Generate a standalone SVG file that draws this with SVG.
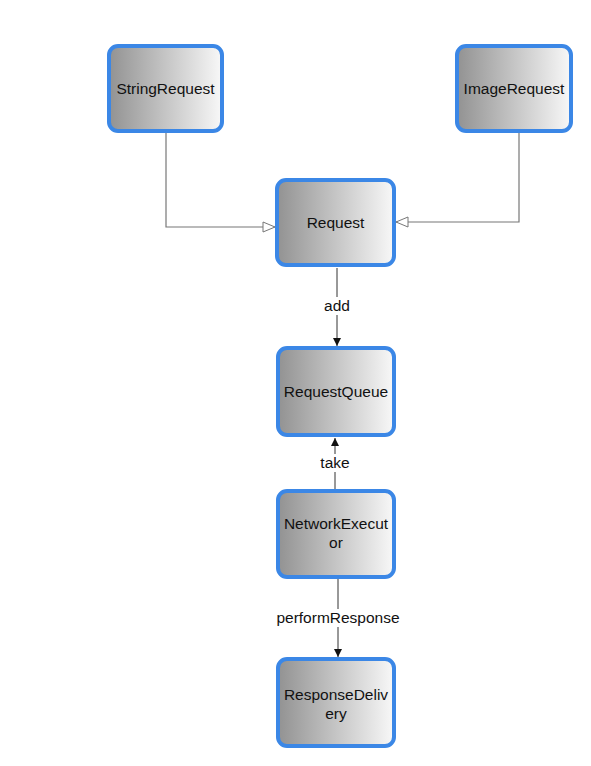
<svg xmlns="http://www.w3.org/2000/svg" width="591" height="766" viewBox="0 0 591 766">
<defs>
<linearGradient id="g" x1="0" y1="0" x2="1" y2="0">
<stop offset="0" stop-color="#929292"/>
<stop offset="1" stop-color="#f8f8f8"/>
</linearGradient>
<marker id="open" markerWidth="14" markerHeight="12" refX="13" refY="6" orient="auto" markerUnits="userSpaceOnUse">
<path d="M1,1 L13,6 L1,11 Z" fill="#fff" stroke="#777" stroke-width="1"/>
</marker>
<marker id="fill" markerWidth="10" markerHeight="10" refX="8" refY="4" orient="auto" markerUnits="userSpaceOnUse">
<path d="M0,0 L8,4 L0,8 Z" fill="#111"/>
</marker>
<style>
.box{fill:url(#g);stroke:#3b87e6;stroke-width:4}
.t{font-family:"Liberation Sans",Arial,sans-serif;font-size:15.5px;fill:#111;text-anchor:middle}
.c{fill:none;stroke:#777;stroke-width:1.2}
.d{fill:none;stroke:#333;stroke-width:1}
.lbl{font-family:"Liberation Sans",Arial,sans-serif;font-size:15.5px;fill:#111;text-anchor:middle}
</style>
</defs>
<g id="connectors">
<path class="c" d="M166,133 V227 H275" marker-end="url(#open)"/>
<path class="c" d="M519,133 V222 H396" marker-end="url(#open)"/>
<path class="d" d="M337,268 V346" marker-end="url(#fill)"/>
<rect x="318" y="297" width="38" height="18" fill="#fff"/>
<text class="lbl" x="337" y="311">add</text>
<path class="d" d="M335,489 V438" marker-end="url(#fill)"/>
<rect x="314" y="454" width="42" height="18" fill="#fff"/>
<text class="lbl" x="335" y="468">take</text>
<path class="d" d="M338,579 V657" marker-end="url(#fill)"/>
<rect x="272" y="609" width="132" height="18" fill="#fff"/>
<text class="lbl" x="338" y="623">performResponse</text>
</g>
<g id="StringRequest">
<rect class="box" x="109" y="46" width="113" height="85" rx="9"/>
<text class="t" x="165.5" y="94">StringRequest</text>
</g>
<g id="ImageRequest">
<rect class="box" x="457" y="46" width="114" height="85" rx="9"/>
<text class="t" x="514" y="94">ImageRequest</text>
</g>
<g id="Request">
<rect class="box" x="277" y="180" width="117" height="85" rx="9"/>
<text class="t" x="335.5" y="228">Request</text>
</g>
<g id="RequestQueue">
<rect class="box" x="278" y="348" width="116" height="87" rx="9"/>
<text class="t" x="336" y="397">RequestQueue</text>
</g>
<g id="NetworkExecutor">
<rect class="box" x="278" y="491" width="116" height="86" rx="9"/>
<text class="t" x="336" y="529">NetworkExecut</text>
<text class="t" x="336" y="548">or</text>
</g>
<g id="ResponseDelivery">
<rect class="box" x="278" y="659" width="116" height="87" rx="9"/>
<text class="t" x="336" y="700">ResponseDeliv</text>
<text class="t" x="336" y="719">ery</text>
</g>
</svg>
